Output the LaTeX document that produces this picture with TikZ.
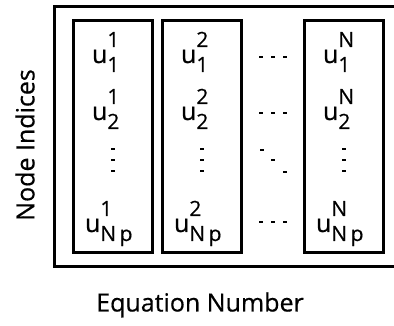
\documentclass[tikz,border=0pt]{standalone}
\usepackage{fontspec}
\setmainfont{Open Sans}[FakeBold=0.5]
\newcommand\mainsz{\fontsize{25}{30}\selectfont}
\newcommand\scrsz{\fontsize{21}{24}\selectfont}
\newcommand\lblsz{\fontsize{25}{30}\selectfont}
\newcommand\uvar[2]{{\mainsz u}\makebox[0pt][l]{\raisebox{16pt}{\scrsz #1}}\raisebox{-9pt}{\scrsz #2}}
\tikzset{
  frame/.style={line width=3pt, black},
  cellbox/.style={draw, line width=3pt, minimum width=79pt, minimum height=231.5pt, inner sep=0pt},
  entry/.style={anchor=base west, inner sep=0pt, outer sep=0pt},
  axislabel/.style={inner sep=0pt, font=\lblsz},
  dot/.style={fill=black, minimum width=3.5pt, minimum height=2.5pt, inner sep=0pt}
}
\begin{document}
\begin{tikzpicture}[x=1pt,y=-1pt]
\useasboundingbox (0,0) rectangle (394,326);
\clip (0,0) rectangle (394,326);
% outer frame (open on the right)
\draw[frame] (420,6.5) -- (54.5,6.5) -- (54.5,266) -- (420,266);
% column boxes
\node[cellbox] (c1) at (113,136.75) {};
\node[cellbox] (c2) at (202,136.75) {};
\node[cellbox] (c3) at (344,136.75) {};
% entries
\node[entry] (a11) at (92,63) {\uvar{1}{1}};
\node[entry] (a12) at (92,120) {\uvar{1}{2}};
\node[entry] (a1n) at (85,232) {\uvar{1}{N\,p}};
\node[entry] (a21) at (181,63) {\uvar{2}{1}};
\node[entry] (a22) at (181,120) {\uvar{2}{2}};
\node[entry] (a2n) at (174,232) {\uvar{2}{N\,p}};
\node[entry] (a31) at (323,63) {\uvar{N}{1}};
\node[entry] (a32) at (323,120) {\uvar{N}{2}};
\node[entry] (a3n) at (316,232) {\uvar{N}{N\,p}};
% vertical dots
\foreach \cx in {113,202,344} {
  \foreach \cy in {149,160,171} { \node[dot] at (\cx,\cy) {}; }
}
% horizontal dots
\foreach \cy in {57,113,222} {
  \foreach \cx in {261,273,285} { \node[dot] at (\cx,\cy) {}; }
}
% diagonal dots
\node[dot] at (262,150) {};
\node[dot] at (273,160) {};
\node[dot] at (285,172) {};
% axis labels
\node[axislabel, rotate=90] (ylab) at (25,145) {Node Indices};
\node[axislabel] (xlab) at (200,305) {Equation Number};
\end{tikzpicture}
\end{document}
